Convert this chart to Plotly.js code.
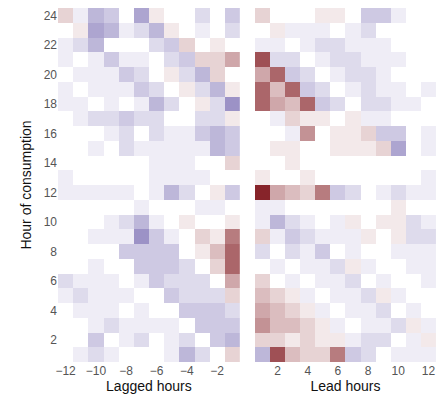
<!DOCTYPE html>
<html>
<head>
<meta charset="utf-8">
<script src="https://cdn.plot.ly/plotly-3.0.1.min.js"></script>
<style>body{margin:0;background:#fff}#chart{width:436px;height:405px}</style>
</head>
<body>
<div id="chart"></div>
<script>
// hour of consumption rows, listed from 24 (top) down to 1
const hours = Array.from({ length: 24 }, (_, i) => 24 - i);
const lagHours = [-12, -11, -10, -9, -8, -7, -6, -5, -4, -3, -2, -1];
const leadHours = [1, 2, 3, 4, 5, 6, 7, 8, 9, 10, 11, 12];

const lagValues = [
  [2,-1,-4,-3,0,-5,1,0,0,-2,0,-3],
  [0,1,-5,-4,-1,-2,-4,1,0,-1,0,-2],
  [-1,-2,-4,0,0,0,-2,-3,2,0,1,0],
  [-1,0,-1,-3,-1,-1,0,-2,-3,2,2,4],
  [0,-1,-1,-1,-3,-2,0,1,-2,-4,2,0],
  [-1,0,-1,-1,-1,-3,-2,0,1,-2,-4,1],
  [-1,-1,0,-1,0,-1,-4,-2,0,1,-2,-6],
  [0,-1,-2,-2,-3,-2,-2,0,0,-2,-2,1],
  [0,0,0,-1,-2,0,-2,-1,-1,-3,-4,-3],
  [0,0,-1,0,-2,-1,-1,-1,-1,-1,-4,-3],
  [0,0,0,0,0,0,-1,-1,-1,0,0,2],
  [-1,0,0,0,0,0,-1,-1,-1,-1,0,0],
  [-1,-1,-1,-1,-1,0,-1,-4,-2,0,1,-3],
  [0,0,0,0,0,-1,0,0,0,-1,-1,0],
  [0,0,0,-1,-2,-4,-1,0,1,0,0,1],
  [0,0,-1,-1,-1,-6,-3,-1,0,2,1,6],
  [0,0,0,0,-3,-3,-3,-3,0,1,3,7],
  [0,0,-1,0,0,-3,-3,-3,-2,0,2,7],
  [-2,-1,-1,-1,0,-1,-3,-2,-2,-2,0,4],
  [-1,-2,-1,-1,-1,0,0,-3,-2,-2,-2,2],
  [0,-1,-1,-1,0,-1,0,0,-3,-3,-3,-2],
  [0,0,-1,-2,-1,-1,-1,-1,0,-3,-3,-3],
  [0,0,-3,0,-1,-2,0,-1,-2,0,-3,-4],
  [0,-1,-2,-1,0,0,0,-1,-4,-2,0,2]
];

const leadValues = [
  [2,0,0,0,1,1,0,-3,-3,-1,0,0],
  [0,1,-1,-1,-1,0,-1,-2,0,0,0,0],
  [-1,-1,0,-1,-2,-2,-1,-1,-1,0,0,0],
  [8,-2,-2,0,-1,-2,-2,-1,-1,-1,0,0],
  [4,7,-3,-2,0,-1,-2,-2,-1,0,0,0],
  [7,3,7,-3,-2,0,-1,-2,-1,-1,0,-1],
  [7,4,3,7,-3,-2,0,-2,-2,-1,-1,0],
  [0,-1,2,1,1,0,1,-1,-1,0,0,0],
  [0,0,-1,5,0,1,1,2,-3,-3,0,-1],
  [0,1,1,0,0,1,1,1,2,-5,0,-1],
  [0,0,1,0,0,0,0,0,0,0,0,0],
  [1,0,0,1,0,0,0,0,0,0,0,-1],
  [10,4,3,2,6,-3,-2,0,-1,-2,-1,-1],
  [-1,-1,0,0,0,0,0,0,0,1,0,0],
  [-1,-4,-2,-1,0,-1,1,0,1,1,-2,-1],
  [2,-1,-3,-2,-1,-1,-1,1,0,1,-2,-2],
  [-2,0,-2,-1,-3,0,-1,0,0,-1,-1,-1],
  [0,-1,0,-1,-1,-2,1,-1,0,0,-1,-1],
  [2,0,-1,0,-1,-1,-2,0,-1,0,0,-1],
  [3,2,1,-1,0,-1,-1,-2,1,-1,0,0],
  [4,3,2,1,-1,0,-1,-1,-2,0,-1,0],
  [5,3,3,2,1,-1,0,-1,-1,-2,1,-1],
  [2,2,1,2,1,1,-1,-2,-2,0,-1,1],
  [-4,8,3,2,2,6,-3,-2,0,-1,-1,-1]
];

const scale = [[0, "#5a4aa0"], [0.5, "#ffffff"], [1, "#87242a"]];

function heat(x, z, xa) {
  return { type: "heatmap", x, y: hours, z, xaxis: xa, yaxis: "y", colorscale: scale, zmin: -10, zmax: 10, showscale: false };
}

const tickFont = { family: "Liberation Sans, Arial, sans-serif", size: 12, color: "#555" };
const titleFont = { family: "Liberation Sans, Arial, sans-serif", size: 14, color: "#111" };
const ax = (domain, vals, title) => ({
  domain, tickvals: vals, showgrid: false, zeroline: false, showline: false, ticks: "",
  tickfont: tickFont, title: { text: title, font: titleFont, standoff: 2 }
});

const layout = {
  width: 436, height: 405,
  margin: { l: 58, r: 0, t: 8, b: 43 },
  paper_bgcolor: "#fff", plot_bgcolor: "#fff",
  xaxis: { ...ax([0, 0.481], [-12, -10, -8, -6, -4, -2], "Lagged hours"), range: [-12.5, -0.5] },
  xaxis2: { ...ax([0.521, 1], [2, 4, 6, 8, 10, 12], "Lead hours"), range: [0.5, 12.5] },
  yaxis: {
    range: [0.5, 24.5], tickvals: [2, 4, 6, 8, 10, 12, 14, 16, 18, 20, 22, 24],
    showgrid: false, zeroline: false, ticks: "", tickfont: tickFont,
    title: { text: "Hour of consumption", font: titleFont, standoff: 8 }
  }
};

Plotly.newPlot("chart", [heat(lagHours, lagValues, "x"), heat(leadHours, leadValues, "x2")], layout, { displayModeBar: false, staticPlot: true });
</script>
</body>
</html>
